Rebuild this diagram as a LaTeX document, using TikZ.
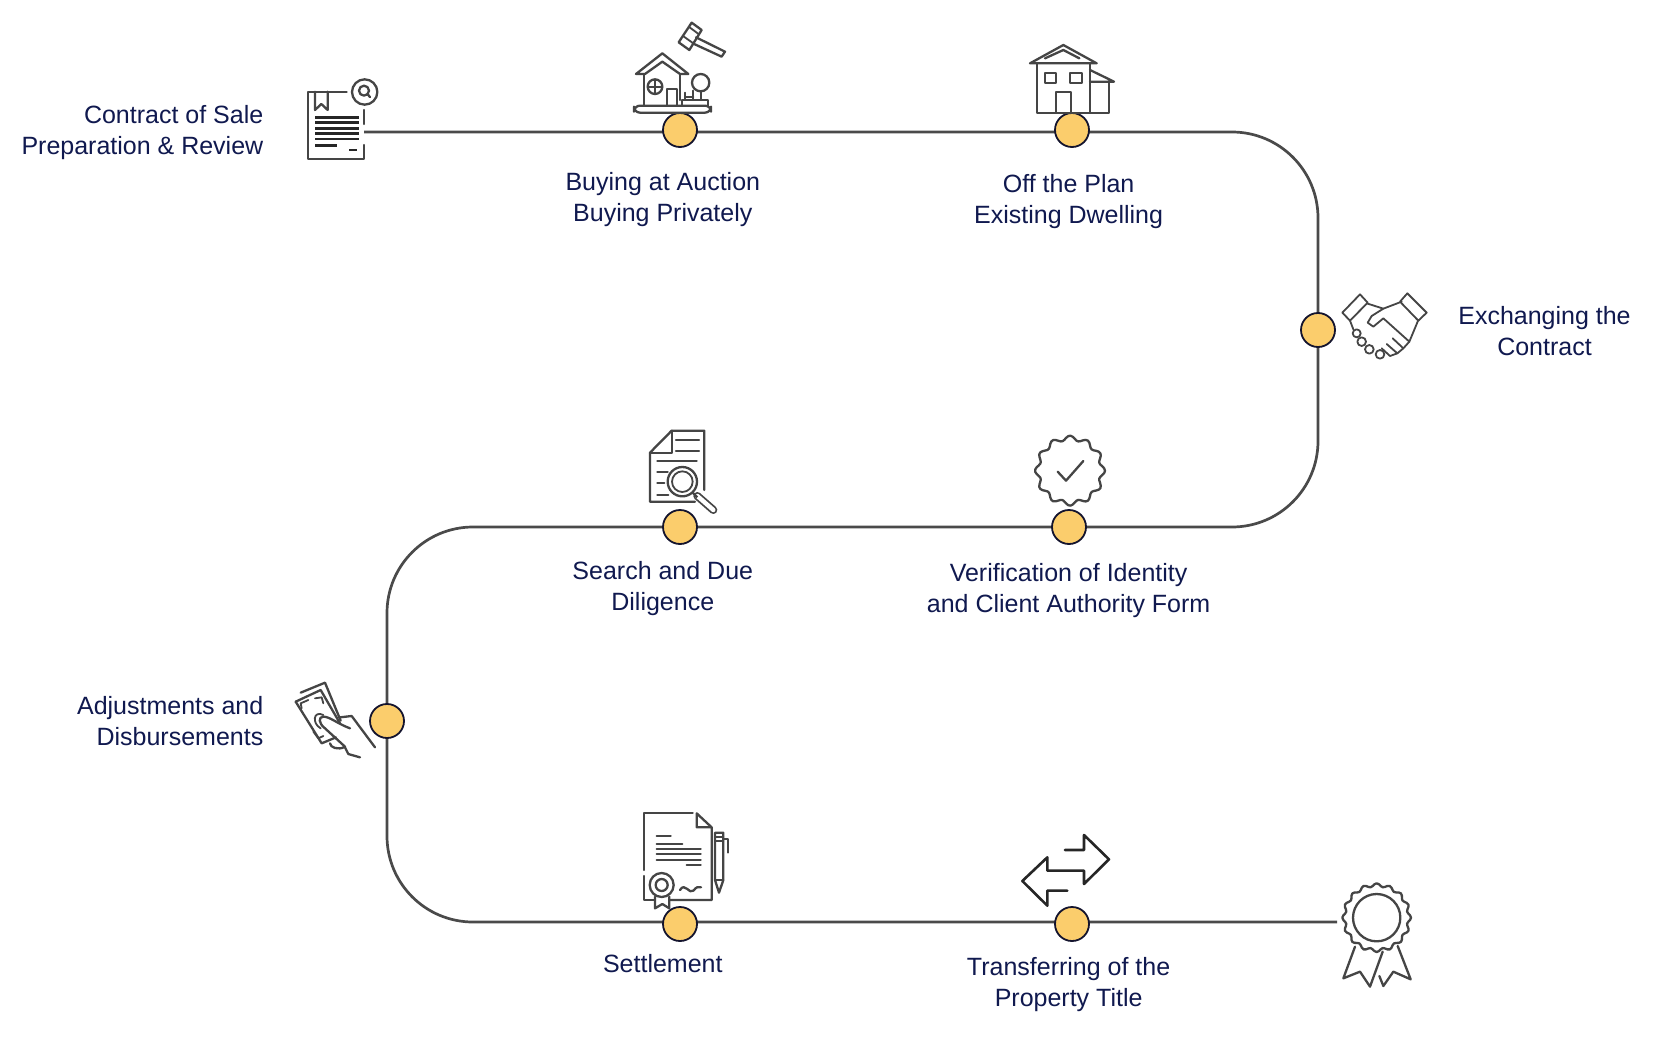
\documentclass[tikz,border=0pt]{standalone}
\usepackage{fontspec}
\setmainfont{Liberation Sans}
\definecolor{navy}{HTML}{10194F}
\definecolor{linegray}{HTML}{4A4A4A}
\definecolor{icongray}{HTML}{454545}
\definecolor{dotfill}{HTML}{FBCD6C}
\definecolor{dotedge}{HTML}{14142E}
\tikzset{
  x=1pt,y=-1pt,
  lbl/.style={text=navy,font=\fontsize{25}{31}\selectfont,inner sep=0pt},
  lblc/.style={lbl,align=center,anchor=center},
  lblr/.style={lbl,align=right,anchor=east},
  dot/.style={circle,draw=dotedge,fill=dotfill,line width=1.8pt,minimum size=34pt,inner sep=0pt},
  snake/.style={draw=linegray,line width=2.7pt,rounded corners=86pt},
  ic/.style={draw=icongray,line width=2.3pt,line join=round,line cap=round},
  icb/.style={draw=black!85,line width=2.8pt,line cap=butt},
  ict/.style={draw=icongray,line width=1.8pt,line join=round,line cap=round},
}
\begin{document}
\begin{tikzpicture}
\useasboundingbox[fill=white] (0,0) rectangle (1680,1054);
% snake
\coordinate (s0) at (364,132);
\coordinate (s1) at (1318,132);
\coordinate (s2) at (1318,527);
\coordinate (s3) at (387,527);
\coordinate (s4) at (387,922);
\coordinate (s5) at (1337,922);
\draw[snake] (s0) -- (s1) -- (s2) -- (s3) -- (s4) -- (s5);
% dots
\node[dot] (d1) at (680,130) {};
\node[dot] (d2) at (1072,130) {};
\node[dot] (d3) at (1318,330) {};
\node[dot] (d4) at (680,527) {};
\node[dot] (d5) at (1069,527) {};
\node[dot] (d6) at (387,721) {};
\node[dot] (d7) at (680,924) {};
\node[dot] (d8) at (1072,924) {};
% labels
\node[lblr] (t1) at (263.5,132.7) {Contract of Sale\\Preparation \& Review};
\node[lblc] (t2) at (662.8,200) {Buying at Auction\\Buying Privately};
\node[lblc] (t3) at (1068.6,201.5) {Off the Plan\\Existing Dwelling};
\node[lblc] (t4) at (1544.5,331) {Exchanging the\\Contract};
\node[lblc] (t5) at (662.8,588.5) {Search and Due\\Diligence};
\node[lblc] (t6) at (1068.6,590.5) {Verification of Identity\\and Client Authority Form};
\node[lblr] (t7) at (263.5,721.2) {Adjustments and\\Disbursements};
\node[lblc] (t8) at (662.8,963.7) {Settlement};
\node[lblc] (t9) at (1068.6,984.5) {Transferring of the\\Property Title};
% icon: contract
\begin{scope}[shift={(280,0)},scale=1/3]
\draw[ic] (200,275) -- (83,275) -- (83,478) -- (253,478) -- (253,435);
\draw[ic] (253,330) -- (253,372);
\draw[ic] (105,275) -- (105,330) -- (124,312) -- (143,330) -- (143,275);
\draw[ic] (254,276) circle (38);
\draw[ic] (252,272) circle (15);
\draw[ic] (262,282) -- (270,291);
\foreach \yy in {352,368,385,401,417} \draw[icb] (105,\yy) -- (238,\yy);
\draw[icb] (105,436) -- (170,436);
\draw[icb] (208,450) -- (232,450);
% auction house
\draw[ic] (1068,222) -- (1147,160) -- (1225,222) -- (1200,222) -- (1147,185) -- (1095,222) -- cycle;
\draw[ic] (1093,222) -- (1093,315);
\draw[ic] (1200,222) -- (1200,300);
\draw[ic] (1125,260) circle (22);
\draw[ict] (1103,260) -- (1147,260) (1125,238) -- (1125,282);
\draw[ic] (1160,315) -- (1160,268) -- (1190,268) -- (1190,315);
\draw[ic,rounded corners=6pt] (1062,317) rectangle (1293,338);
\draw[ic] (1205,315) -- (1205,300) -- (1285,300) -- (1285,317);
\draw[ic] (1262,248) circle (26);
\draw[ic] (1262,274) -- (1262,300);
\draw[ict] (1215,297) -- (1215,278) (1240,297) -- (1240,272) (1215,290) -- (1240,290);
% gavel
\draw[ic] (1235,68) -- (1265,90) -- (1228,150) -- (1196,127) -- cycle;
\draw[ict] (1226,80) -- (1257,103) (1209,108) -- (1240,130);
\draw[ic] (1248,112) -- (1335,155) -- (1325,170) -- (1238,130);
\end{scope}
% icon: house
\begin{scope}[shift={(1000,20)},scale=1/3]
\draw[ic] (90,130) -- (190,75) -- (290,130) -- cycle;
\draw[ic] (135,115) -- (190,90) -- (238,115);
\draw[ic] (110,130) rectangle (270,278);
\draw[ic] (135,158) rectangle (167,190);
\draw[ic] (210,158) rectangle (245,190);
\draw[ic] (167,278) -- (167,215) -- (213,215) -- (213,278);
\draw[ic] (270,150) -- (342,185) -- (270,185);
\draw[ic] (328,190) -- (328,278) -- (270,278);
% handshake
\draw[ict] (1027,878) -- (1080,823) -- (1103,848) -- (1050,902) -- cycle;
\draw[ict] (1200,845) -- (1222,820) -- (1280,878) -- (1255,902) -- cycle;
\draw[ict] (1100,850) -- (1150,866);
\draw[ict] (1205,845) -- (1150,866) -- (1115,888) -- (1103,908) -- (1120,920) -- (1150,895) -- (1228,965) -- (1210,985) -- (1178,955);
\draw[ict] (1255,900) -- (1228,965);
\draw[ict] (1210,985) -- (1192,1000) -- (1160,972);
\draw[ict] (1192,1000) -- (1170,1008) -- (1145,985);
\draw[ict] (1050,902) -- (1060,928);
\draw[ict] (1070,940) circle (12);
\draw[ict] (1085,965) circle (13);
\draw[ict] (1108,988) circle (13);
\draw[ict] (1140,1003) circle (13);
\end{scope}
% icon: search doc + badge
\begin{scope}[shift={(620,410)},scale=1/3]
\draw[ic] (225,275) -- (90,275) -- (90,128) -- (155,62) -- (253,62) -- (253,240);
\draw[ic] (90,128) -- (155,128) -- (155,62);
\draw[ic] (168,90) -- (237,90) (168,122) -- (237,122) (112,154) -- (230,154) (112,187) -- (143,187) (112,220) -- (133,220) (112,254) -- (145,254);
\draw[ic,fill=white] (187,215) circle (44);
\draw[ict] (187,215) circle (31);
\draw[icongray,line width=8pt,line cap=round] (232,258) -- (280,300);
\draw[white,line width=4.4pt,line cap=round] (232,258) -- (280,300);
\draw[ic,line cap=butt] (218,248) -- (232,262);
% badge
\draw[ic] plot[smooth cycle,samples=97,domain=0:356.25] ({1350+(98+7*cos(12*\x))*cos(\x)},{182+(98+7*cos(12*\x))*sin(\x)});
\draw[ic] (1313,185) -- (1338,212) -- (1390,153);
\end{scope}
% icon: money
\begin{scope}[shift={(280,660)},scale=1/3]
\draw[ic] (62,98) -- (135,68) -- (182,182);
\draw[ic] (47,125) -- (122,90) -- (180,190);
\draw[ic] (47,125) -- (125,250) -- (168,232);
\draw[ict] (65,145) -- (62,130) -- (85,120) (105,115) -- (125,112) -- (130,130);
\draw[ict] (100,215) -- (115,235) -- (130,228);
\draw[ict] (130,165) .. controls (100,150) and (95,190) .. (122,205);
\draw[ic] (210,205) .. controls (170,190) and (150,170) .. (130,170) .. controls (115,170) and (115,190) .. (135,205) -- (195,260) .. controls (175,272) and (150,262) .. (150,250);
\draw[ic] (180,172) -- (215,168) -- (285,262);
\draw[ic] (195,262) -- (205,282) -- (240,292);
\end{scope}
% icon: settlement + arrows
\begin{scope}[shift={(620,800)},scale=1/3]
\draw[ic] (218,40) -- (72,40) -- (72,210);
\draw[ic] (72,228) -- (72,300) -- (105,300);
\draw[ic] (150,300) -- (275,300) -- (275,82) -- (230,40) -- (230,82) -- (275,82);
\draw[ic] (110,107) -- (152,107) (110,133) -- (187,133) (110,148) -- (242,148) (110,163) -- (242,163) (110,179) -- (242,179) (200,194) -- (242,194);
\draw[ic] (125,255) circle (36);
\draw[ic] (125,255) circle (18);
\draw[ic] (105,290) -- (105,325) -- (127,312) -- (148,325) -- (148,290);
\draw[ic] (180,270) .. controls (195,245) and (208,285) .. (220,272) .. controls (228,262) and (235,258) .. (243,262);
\draw[ic] (285,240) -- (285,98) -- (310,98) -- (310,240) -- (297,278) -- cycle;
\draw[ict] (285,112) -- (310,112) (285,124) -- (310,124) (285,240) -- (310,240);
\draw[ict] (310,118) -- (323,118) -- (323,158);
\draw[ic,draw=black!85,line width=2.6pt] (1335,150) -- (1392,150) -- (1392,105) -- (1467,178) -- (1392,252) -- (1392,212) -- (1282,212) -- (1282,172) -- (1207,243) -- (1282,317) -- (1282,272) -- (1342,272);
\end{scope}
% icon: award
\begin{scope}[shift={(1310,870)},scale=1/3]
\draw[ic] plot[smooth cycle,samples=96,domain=0:356.25] ({200+(98+5*cos(16*\x))*cos(\x)},{143+(98+5*cos(16*\x))*sin(\x)});
\draw[ic] (200,143) circle (71);
\draw[ic] (135,230) -- (100,325) -- (150,305) -- (180,350) -- (218,245);
\draw[ic] (263,228) -- (302,328) -- (250,305) -- (220,348) -- (208,318);
\end{scope}
\end{tikzpicture}
\end{document}
